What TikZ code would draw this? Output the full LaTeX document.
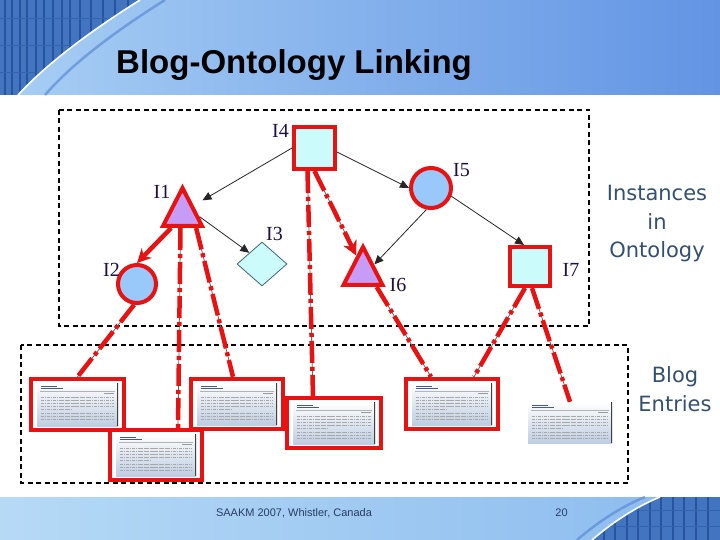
\documentclass[tikz,border=0pt]{standalone}
\usepackage{fontspec}
\setmainfont{Liberation Serif}
\newfontfamily\titlefont{Liberation Sans}
\newfontfamily\sidefont{DejaVu Sans}
\usetikzlibrary{arrows.meta,shapes.geometric,fit,calc}
\definecolor{hdrLight}{RGB}{168,207,244}
\definecolor{hdrDark}{RGB}{98,148,228}
\definecolor{gridBlue}{RGB}{66,116,192}
\definecolor{gridLine}{RGB}{40,84,158}
\definecolor{arcBlue}{RGB}{92,140,214}
\definecolor{ftLight}{RGB}{182,218,246}
\definecolor{ftMid}{RGB}{138,186,238}
\definecolor{linkRed}{RGB}{232,18,18}
\definecolor{cyanFill}{RGB}{204,251,252}
\definecolor{lavFill}{RGB}{199,156,247}
\definecolor{blueFill}{RGB}{153,201,251}
\definecolor{lblInk}{RGB}{30,16,64}
\definecolor{sideInk}{RGB}{52,80,112}
\definecolor{diaEdge}{RGB}{60,105,110}
\definecolor{thumbBot}{RGB}{190,205,226}
\definecolor{thumbBlue}{RGB}{70,90,140}
\definecolor{footInk}{RGB}{40,60,100}
\tikzset{
  ontonode/.style={draw=linkRed, line width=4pt, inner sep=0pt},
  ontosquare/.style={ontonode, rectangle, fill=cyanFill},
  ontotri/.style={ontonode, isosceles triangle, isosceles triangle stretches=true,
    shape border rotate=90, fill=lavFill, minimum width=39, minimum height=38},
  ontocircle/.style={ontonode, circle, fill=blueFill},
  ontodiamond/.style={diamond, draw=diaEdge, line width=0.8pt, fill=cyanFill,
    minimum width=50, minimum height=44, inner sep=0pt},
  lbl/.style={font=\fontsize{20}{22}\selectfont, text=lblInk, inner sep=0pt},
  ontoarrow/.style={draw=black!85, line width=0.8pt, -{Triangle[length=9pt,width=8pt]}},
  redlink/.style={draw=linkRed, line width=4.5pt, dash pattern=on 22pt off 4pt on 4pt off 4pt,
    preaction={draw=black!60, line width=0.8pt, solid}},
  redlinksolid/.style={draw=linkRed, line width=4.5pt},
  redtip/.style={-{Stealth[length=14pt,width=14pt]}},
  textgray/.style={draw=black!34, line width=0.9pt, dash pattern=on 3pt off 0.7pt on 1.5pt off 0.7pt},
  blogthumb/.style={inner sep=0pt, top color=white, bottom color=thumbBot,
    path picture={
      \draw[thumbBlue, line width=0.9pt] ([xshift=4pt,yshift=-3pt]path picture bounding box.north west) -- ++(16,0);
      \draw[thumbBlue, line width=0.7pt] ([xshift=4pt,yshift=-5.5pt]path picture bounding box.north west) -- ++(22,0);
      \draw[black!30, line width=0.4pt] ([xshift=3pt,yshift=-8pt]path picture bounding box.north west) -- ([xshift=-3pt,yshift=-8pt]path picture bounding box.north east);
      \draw[black!40, line width=0.6pt] ([xshift=-14pt,yshift=-10pt]path picture bounding box.north east) -- ++(10,0);
      \foreach \ty in {14,17,20,23}
        \draw[textgray] ([xshift=4pt,yshift=-\ty pt]path picture bounding box.north west) -- ([xshift=-4pt,yshift=-\ty pt]path picture bounding box.north east);
      \draw[textgray] ([xshift=4pt,yshift=-26pt]path picture bounding box.north west) -- ++(30,0);
      \foreach \ty in {30,33,36}
        \draw[textgray] ([xshift=4pt,yshift=-\ty pt]path picture bounding box.north west) -- ([xshift=-4pt,yshift=-\ty pt]path picture bounding box.north east);
      \draw[black!75, line width=1.2pt] (path picture bounding box.north east) -- (path picture bounding box.south east);
    }},
  blogframe/.style={draw=linkRed, line width=4pt, inner xsep=6pt, inner ysep=4pt},
  dashbox/.style={draw=black, line width=1.1pt, dash pattern=on 5pt off 3.5pt},
  sidetext/.style={font=\sidefont\fontsize{21}{28.5}\selectfont, text=sideInk, align=center, inner sep=0pt},
  foottext/.style={font=\titlefont\fontsize{11}{13}\selectfont, text=footInk, inner sep=0pt},
}
\begin{document}
\begin{tikzpicture}[x=1pt,y=-1pt]
\useasboundingbox (0,0) rectangle (720,540);
\fill[white] (0,0) rectangle (720,540);
% header band
\shade[left color=hdrLight, middle color=hdrLight!60!hdrDark, right color=hdrDark] (0,0) rectangle (720,95);
\begin{scope}
  \clip (0,0) -- (140,0) .. controls (100,25) and (50,60) .. (18,95) -- (0,95) -- cycle;
  \fill[gridBlue] (0,0) rectangle (140,95);
  \foreach \gx in {5,12,20,27,36,44,53,62,70,80,91,103,115,128}
    \draw[gridLine, line width=1.2pt] (\gx,0) -- (\gx,95);
  \foreach \gy in {18,45,72}
    \draw[gridLine!50!gridBlue, line width=0.8pt] (0,\gy) -- (140,\gy);
\end{scope}
\draw[arcBlue, line width=2.5pt, opacity=0.7] (165,0) .. controls (125,25) and (75,60) .. (45,95);
\draw[white, line width=1.6pt] (140,0) .. controls (100,25) and (50,60) .. (18,95);
% footer band
\shade[left color=ftLight, right color=ftMid] (0,497) rectangle (720,540);
\begin{scope}
  \clip (660,497) -- (720,497) -- (720,540) -- (592,540) .. controls (615,520) and (640,505) .. (660,497) -- cycle;
  \fill[gridBlue] (590,497) rectangle (720,540);
  \foreach \gx in {604,615,627,638,650,661,673,684,696,708}
    \draw[gridLine, line width=1.2pt] (\gx,497) -- (\gx,540);
  \foreach \gy in {510,526}
    \draw[gridLine!50!gridBlue, line width=0.8pt] (590,\gy) -- (720,\gy);
\end{scope}
\draw[arcBlue, line width=2.5pt, opacity=0.7] (577,540) .. controls (600,520) and (625,505) .. (645,497);
\draw[white, line width=1.6pt] (592,540) .. controls (615,520) and (640,505) .. (660,497);
% title
\node[font=\titlefont\bfseries\fontsize{33}{36}\selectfont, anchor=base west, inner sep=0pt] (title) at (116,74) {Blog-Ontology Linking};
% dashed regions
\draw[dashbox] (59,110) rectangle (589,326);
\draw[dashbox] (21,345) rectangle (628,483);
% blog entries
\node[blogthumb, minimum width=81, minimum height=43] (t1) at (77.5,404.5) {};
\node[blogframe, fit=(t1)] (B1) {};
\node[blogthumb, minimum width=80, minimum height=42] (t3) at (237,404) {};
\node[blogframe, fit=(t3)] (B3) {};
\node[blogthumb, minimum width=80, minimum height=42] (t2) at (156,455) {};
\node[blogframe, fit=(t2)] (B2) {};
\node[blogthumb, minimum width=82, minimum height=42] (t4) at (334,423) {};
\node[blogframe, fit=(t4)] (B4) {};
\node[blogthumb, minimum width=80, minimum height=42] (t5) at (452,404) {};
\node[blogframe, fit=(t5)] (B5) {};
\node[blogthumb, minimum width=84, minimum height=41] (B6) at (570,422.5) {};
% ontology nodes
\node[ontosquare, minimum width=41, minimum height=42] (I4) at (314.5,148) {};
\node[ontotri, anchor=south] (I1) at (182.5,228) {};
\node[ontocircle, minimum size=38] (I2) at (137,284) {};
\node[ontodiamond] (I3) at (262,264) {};
\node[ontocircle, minimum size=40] (I5) at (431,188) {};
\node[ontotri, anchor=south] (I6) at (363,287) {};
\node[ontosquare, minimum width=40, minimum height=39] (I7) at (530,266.5) {};
% labels
\node[lbl] (lI4) at (280.5,131) {I4};
\node[lbl] (lI1) at (162,192) {I1};
\node[lbl] (lI2) at (111.5,270) {I2};
\node[lbl] (lI3) at (274.5,234) {I3};
\node[lbl] (lI5) at (461.5,170) {I5};
\node[lbl] (lI6) at (398,285) {I6};
\node[lbl] (lI7) at (571,270) {I7};
% ontology arrows
\draw[ontoarrow, shorten >=10pt] (I4.west) -- (I1.right side);
\draw[ontoarrow] ($(I1.right side)!0.5!(I1.right corner)$) -- (I3.north west);
\draw[ontoarrow] ([yshift=-4pt]I4.east) -- (I5.west);
\draw[ontoarrow] (I5.258) -- (I6.right side);
\draw[ontoarrow] (I5.338) -- ([xshift=-6pt]I7.north);
% red links
\draw[redlinksolid, redtip] ($(I1.left corner)!0.5!(I1.lower side)$) -- (I2.north);
\draw[redlink] (I2.262) -- (B1.north);
\draw[redlink] ([xshift=-2pt]I1.lower side) -- ([xshift=22pt]B2.north);
\draw[redlink] ($(I1.lower side)!0.6!(I1.right corner)$) -- ([xshift=-4pt]B3.north);
\draw[redlink] ([xshift=-7pt]I4.south) -- ([xshift=-21pt]B4.north);
\draw[redlink, redtip] (I4.south) -- ($(I6.apex)!0.3!(I6.left corner)$);
\draw[redlink] ($(I6.lower side)!0.6!(I6.right corner)$) -- ([xshift=-21pt]B5.north);
\draw[redlink] ([xshift=-5pt]I7.south) -- ([xshift=22pt]B5.north);
\draw[redlink] ([xshift=2pt]I7.south) -- (B6.north);
% side texts
\node[sidetext] (inst) at (657,224) {Instances\\in\\Ontology};
\node[sidetext] (blog) at (675,389) {Blog\\Entries};
% footer texts
\node[foottext] (foot) at (294,513) {SAAKM 2007, Whistler, Canada};
\node[foottext] (page) at (561.5,513) {20};
\end{tikzpicture}
\end{document}
